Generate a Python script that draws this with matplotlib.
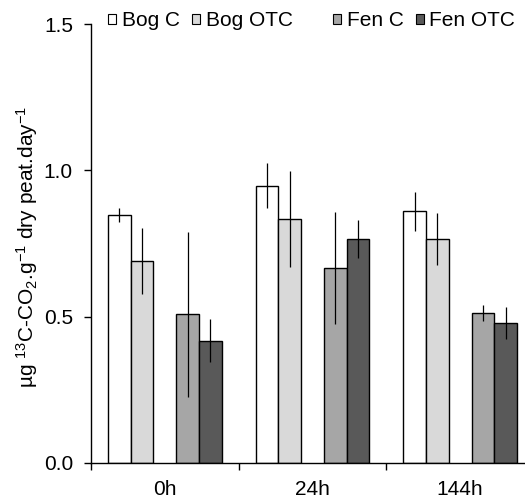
import numpy as np
import matplotlib
matplotlib.use('Agg')
import matplotlib.pyplot as plt
from matplotlib.patches import Patch

plt.rcParams['font.family'] = ['Liberation Sans', 'DejaVu Sans']
plt.rcParams['mathtext.fontset'] = 'custom'
plt.rcParams['mathtext.rm'] = 'Liberation Sans'
plt.rcParams['mathtext.it'] = 'Liberation Sans'

# Data
times = ['0h', '24h', '144h']
series = ['Bog C', 'Bog OTC', 'Fen C', 'Fen OTC']
bog_c = [0.848, 0.948, 0.860]
bog_otc = [0.691, 0.834, 0.765]
fen_c = [0.508, 0.666, 0.513]
fen_otc = [0.418, 0.765, 0.478]
bog_c_err = [0.024, 0.078, 0.066]
bog_otc_err = [0.113, 0.164, 0.088]
fen_c_err = [0.281, 0.190, 0.027]
fen_otc_err = [0.073, 0.066, 0.054]

values = [bog_c, bog_otc, fen_c, fen_otc]
errors = [bog_c_err, bog_otc_err, fen_c_err, fen_otc_err]
colors = ['#ffffff', '#d9d9d9', '#a6a6a6', '#595959']

fig = plt.figure(figsize=(5.25, 5.01), dpi=100)
ax = fig.add_axes([91 / 525, 38 / 501, 443 / 525, 439 / 501])

x = np.arange(len(times))
w = 1 / 6.5
offsets = [-2 * w, -w, w, 2 * w]

for vals, errs, col, off, name in zip(values, errors, colors, offsets, series):
    ax.bar(x + off, vals, w, color=col, edgecolor='black', linewidth=1.0,
           label=name, zorder=2)
    ax.errorbar(x + off, vals, yerr=errs, fmt='none', ecolor='black',
                elinewidth=0.9, capsize=0, zorder=3)

ax.set_xlim(-0.5, 2.5)
ax.set_ylim(0, 1.5)
ax.set_yticks([0.0, 0.5, 1.0, 1.5])
ax.set_yticklabels(['0.0', '0.5', '1.0', '1.5'])
ax.set_xticks(x)
ax.set_xticklabels(times)
ax.set_xticks([-0.5, 0.5, 1.5], minor=True)
ax.tick_params(axis='x', which='major', length=0, pad=12, labelsize=15)
ax.tick_params(axis='x', which='minor', length=5, width=1, direction='out')
ax.tick_params(axis='y', length=5, width=1, direction='out', pad=8, labelsize=15)

for s in ['top', 'right']:
    ax.spines[s].set_visible(False)
ax.spines['left'].set_linewidth(1)
ax.spines['bottom'].set_linewidth(1)

fig.text(27 / 525, 1 - 247 / 501,
         'µg $^{13}$C-CO$_2$.g$^{-1}$ dry peat.day$^{-1}$',
         rotation=90, ha='center', va='center', fontsize=15)

handles = [Patch(facecolor=c, edgecolor='black', linewidth=0.8) for c in colors]
leg_kw = dict(ncol=2, frameon=False, fontsize=15, handlelength=0.4,
              handleheight=0.4, handletextpad=0.25, columnspacing=0.6,
              borderpad=0, borderaxespad=0, loc='center left',
              bbox_transform=fig.transFigure)
leg1 = ax.legend(handles[:2], series[:2], bbox_to_anchor=(108 / 525, 1 - 21 / 501), **leg_kw)
ax.add_artist(leg1)
ax.legend(handles[2:], series[2:], bbox_to_anchor=(333 / 525, 1 - 21 / 501), **leg_kw)

fig.savefig('out.png', dpi=100)
plt.close(fig)
